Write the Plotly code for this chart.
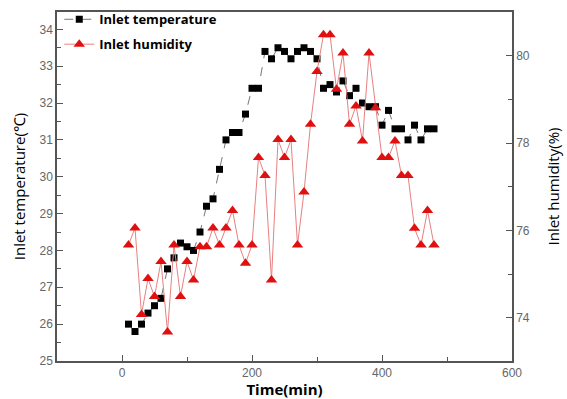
import plotly.graph_objects as go

time_min = [10, 20, 30, 40, 50, 60, 70, 80, 90, 100, 110, 120, 130, 140, 150, 160,
            170, 180, 190, 200, 210, 220, 230, 240, 250, 260, 270, 280, 290, 300,
            310, 320, 330, 340, 350, 360, 370, 380, 390, 400, 410, 420, 430, 440,
            450, 460, 470, 480]

inlet_temperature = [26.0, 25.8, 26.0, 26.3, 26.5, 26.7, 27.5, 27.8, 28.2, 28.1, 28.0, 28.5,
                     29.2, 29.4, 30.2, 31.0, 31.2, 31.2, 31.7, 32.4, 32.4, 33.4, 33.2, 33.5,
                     33.4, 33.2, 33.4, 33.5, 33.4, 33.2, 32.4, 32.5, 32.3, 32.6, 32.2, 32.4,
                     32.0, 31.9, 31.9, 31.4, 31.8, 31.3, 31.3, 31.0, 31.4, 31.0, 31.3, 31.3]

inlet_humidity = [75.67, 76.06, 74.08, 74.9, 74.49, 75.29, 73.68, 75.67, 74.49, 75.29, 74.87, 75.63,
                  75.63, 76.06, 75.67, 76.06, 76.46, 75.67, 75.25, 75.67, 77.67, 77.26, 74.87, 78.08,
                  77.67, 78.08, 75.67, 76.88, 78.43, 79.64, 80.48, 80.48, 79.23, 80.06, 78.43, 78.85,
                  78.05, 80.06, 78.81, 77.67, 77.67, 78.05, 77.26, 77.26, 76.05, 75.67, 76.46, 75.67]

x_ticks = [0, 200, 400, 600]
left_ticks = [25, 26, 27, 28, 29, 30, 31, 32, 33, 34]
right_ticks = [74, 76, 78, 80]

fig = go.Figure()
fig.add_trace(go.Scatter(
    x=time_min, y=inlet_temperature, name="Inlet temperature", legendgroup="t",
    mode="lines+markers",
    line=dict(color="#777777", width=1, dash="dash"),
    marker=dict(symbol="square", size=7, color="black"),
))
fig.add_trace(go.Scatter(
    x=time_min, y=inlet_humidity, name="Inlet humidity", yaxis="y2", legendgroup="h",
    mode="lines+markers",
    line=dict(color="#e88080", width=1),
    marker=dict(symbol="triangle-up", size=10, color="#e01010"),
))

tickfont = dict(family="Liberation Sans, Arial", size=12, color="#666666")
axis_common = dict(showline=True, linecolor="#555555", linewidth=1.5, ticks="inside",
                   tickcolor="#555555", ticklen=6, showgrid=False, zeroline=False,
                   tickfont=tickfont, automargin=False)

fig.update_layout(
    width=567, height=399,
    margin=dict(l=57, r=55, t=12, b=38, autoexpand=False),
    plot_bgcolor="white", paper_bgcolor="white",
    showlegend=True,
    legend=dict(x=0.005, y=1.022, xanchor="left", yanchor="top",
                bgcolor="rgba(0,0,0,0)", traceorder="grouped", tracegroupgap=5,
                font=dict(family="Open Sans", size=13, color="black", weight="bold"),
                itemwidth=30),
    xaxis=dict(range=[-100, 600], tickvals=x_ticks, mirror=True,
               minor=dict(ticks="inside", dtick=100, tick0=0, ticklen=4, tickcolor="#555555"),
               title=dict(text="Time(min)", standoff=2,
                          font=dict(family="Open Sans", size=15, color="black", weight="bold")),
               **axis_common),
    yaxis=dict(range=[25, 34.47], tickvals=left_ticks, mirror=True,
               minor=dict(ticks="inside", dtick=0.5, tick0=25, ticklen=4, tickcolor="#555555"),
               title=dict(text="Inlet temperature(℃)", standoff=10,
                          font=dict(family="Open Sans", size=15, color="black")),
               **axis_common),
    yaxis2=dict(range=[73.015, 81.0], tickvals=right_ticks, overlaying="y", side="right",
                minor=dict(ticks="inside", dtick=1, tick0=73, ticklen=4, tickcolor="#555555"),
                title=dict(text="Inlet humidity(%)", standoff=20,
                           font=dict(family="Open Sans", size=15, color="black")),
                **axis_common),
)

fig.write_html("out.html")
